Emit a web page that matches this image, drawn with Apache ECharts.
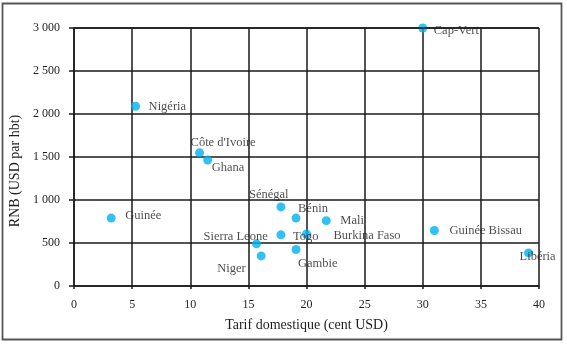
<!DOCTYPE html>
<html>
<head>
<meta charset="utf-8">
<script src="https://cdn.jsdelivr.net/npm/echarts@6/dist/echarts.min.js"></script>
<style>
html,body{margin:0;padding:0;background:#fff;}
#c{width:567px;height:347px;}
</style>
</head>
<body>
<div id="c"></div>
<script>
var countries = ['Cap-Vert','Nigéria',"Côte d'Ivoire",'Ghana','Guinée','Sénégal','Bénin','Mali','Togo','Burkina Faso','Sierra Leone','Niger','Gambie','Guinée Bissau','Libéria'];
var tarif = [30.0, 5.3, 10.8, 11.5, 3.2, 17.8, 19.1, 21.7, 17.8, 20.0, 15.7, 16.1, 19.1, 31.0, 39.1];
var rnb = [3000, 2090, 1550, 1465, 790, 920, 790, 760, 595, 605, 490, 350, 425, 645, 385];
var yTickLabels = ['0','500','1 000','1 500','2 000','2 500','3 000'];
var xTickLabels = ['0','5','10','15','20','25','30','35','40'];

// label placement (pixel offsets of label's left edge / vertical centre from the point)
var labelOffsets = [[11,3],[13,0],[-9,-10],[4,8],[14,-2],[-32,-12],[2,-9],[14,0],[12,2],[27,2],[-53,-7],[-44,13],[2,14],[15,0],[-9,4]];

var SYM = 9;
var data = countries.map(function(n,i){
  return {
    name: n,
    value: [tarif[i], rnb[i]],
    label: {position: [SYM/2 + labelOffsets[i][0], SYM/2 + labelOffsets[i][1]]}
  };
});

var font = 'Liberation Serif';
var txt = '#1e1e1e';
var gridCol = '#1a1a1a';
var chart = echarts.init(document.getElementById('c'), null, {renderer:'canvas'});
chart.setOption({
  animation: false,
  backgroundColor: '#fff',
  grid: {left: 74, right: 28, top: 28, bottom: 61, containLabel: false},
  xAxis: {
    type: 'value', min: 0, max: 40, interval: 5,
    name: 'Tarif domestique (cent USD)', nameLocation: 'middle', nameGap: 32,
    nameTextStyle: {fontFamily: font, fontSize: 14, color: txt},
    axisLine: {show: true, lineStyle: {color: gridCol, width: 1.5}},
    axisTick: {show: true, inside: false, length: 3, lineStyle: {color: gridCol, width: 1.5}},
    axisLabel: {margin: 13, fontFamily: font, fontSize: 12, color: txt,
      formatter: function(v){ return xTickLabels[Math.round(v/5)]; }},
    splitLine: {show: true, lineStyle: {color: gridCol, width: 1.5}}
  },
  yAxis: {
    type: 'value', min: 0, max: 3000, interval: 500,
    name: 'RNB (USD par hbt)', nameLocation: 'middle', nameGap: 50,
    nameTextStyle: {fontFamily: font, fontSize: 14, color: txt, padding: [0, 28, 0, 0]},
    axisLine: {show: true, lineStyle: {color: gridCol, width: 1.5}},
    axisTick: {show: true, inside: false, length: 5, lineStyle: {color: gridCol, width: 1.5}},
    axisLabel: {margin: 14, fontFamily: font, fontSize: 12, color: txt,
      formatter: function(v){ return yTickLabels[Math.round(v/500)]; }},
    splitLine: {show: true, lineStyle: {color: gridCol, width: 1.5}}
  },
  graphic: [{
    type: 'rect', silent: true, z: 100,
    shape: {x: 2.5, y: 3.5, width: 559, height: 336},
    style: {fill: 'none', stroke: '#555', lineWidth: 1.8}
  }, {
    type: 'line', silent: true, z: 100,
    shape: {x1: 74, y1: 28, x2: 539, y2: 28},
    style: {stroke: gridCol, lineWidth: 1.5}
  }],
  series: [{
    type: 'scatter',
    symbol: 'circle',
    symbolSize: SYM,
    itemStyle: {color: '#00b0f0'},
    data: data,
    label: {
      show: true,
      formatter: '{b}',
      align: 'left',
      verticalAlign: 'middle',
      fontFamily: font,
      fontSize: 12.5,
      color: txt
    },
    labelLayout: {hideOverlap: false}
  }]
});
</script>
</body>
</html>
